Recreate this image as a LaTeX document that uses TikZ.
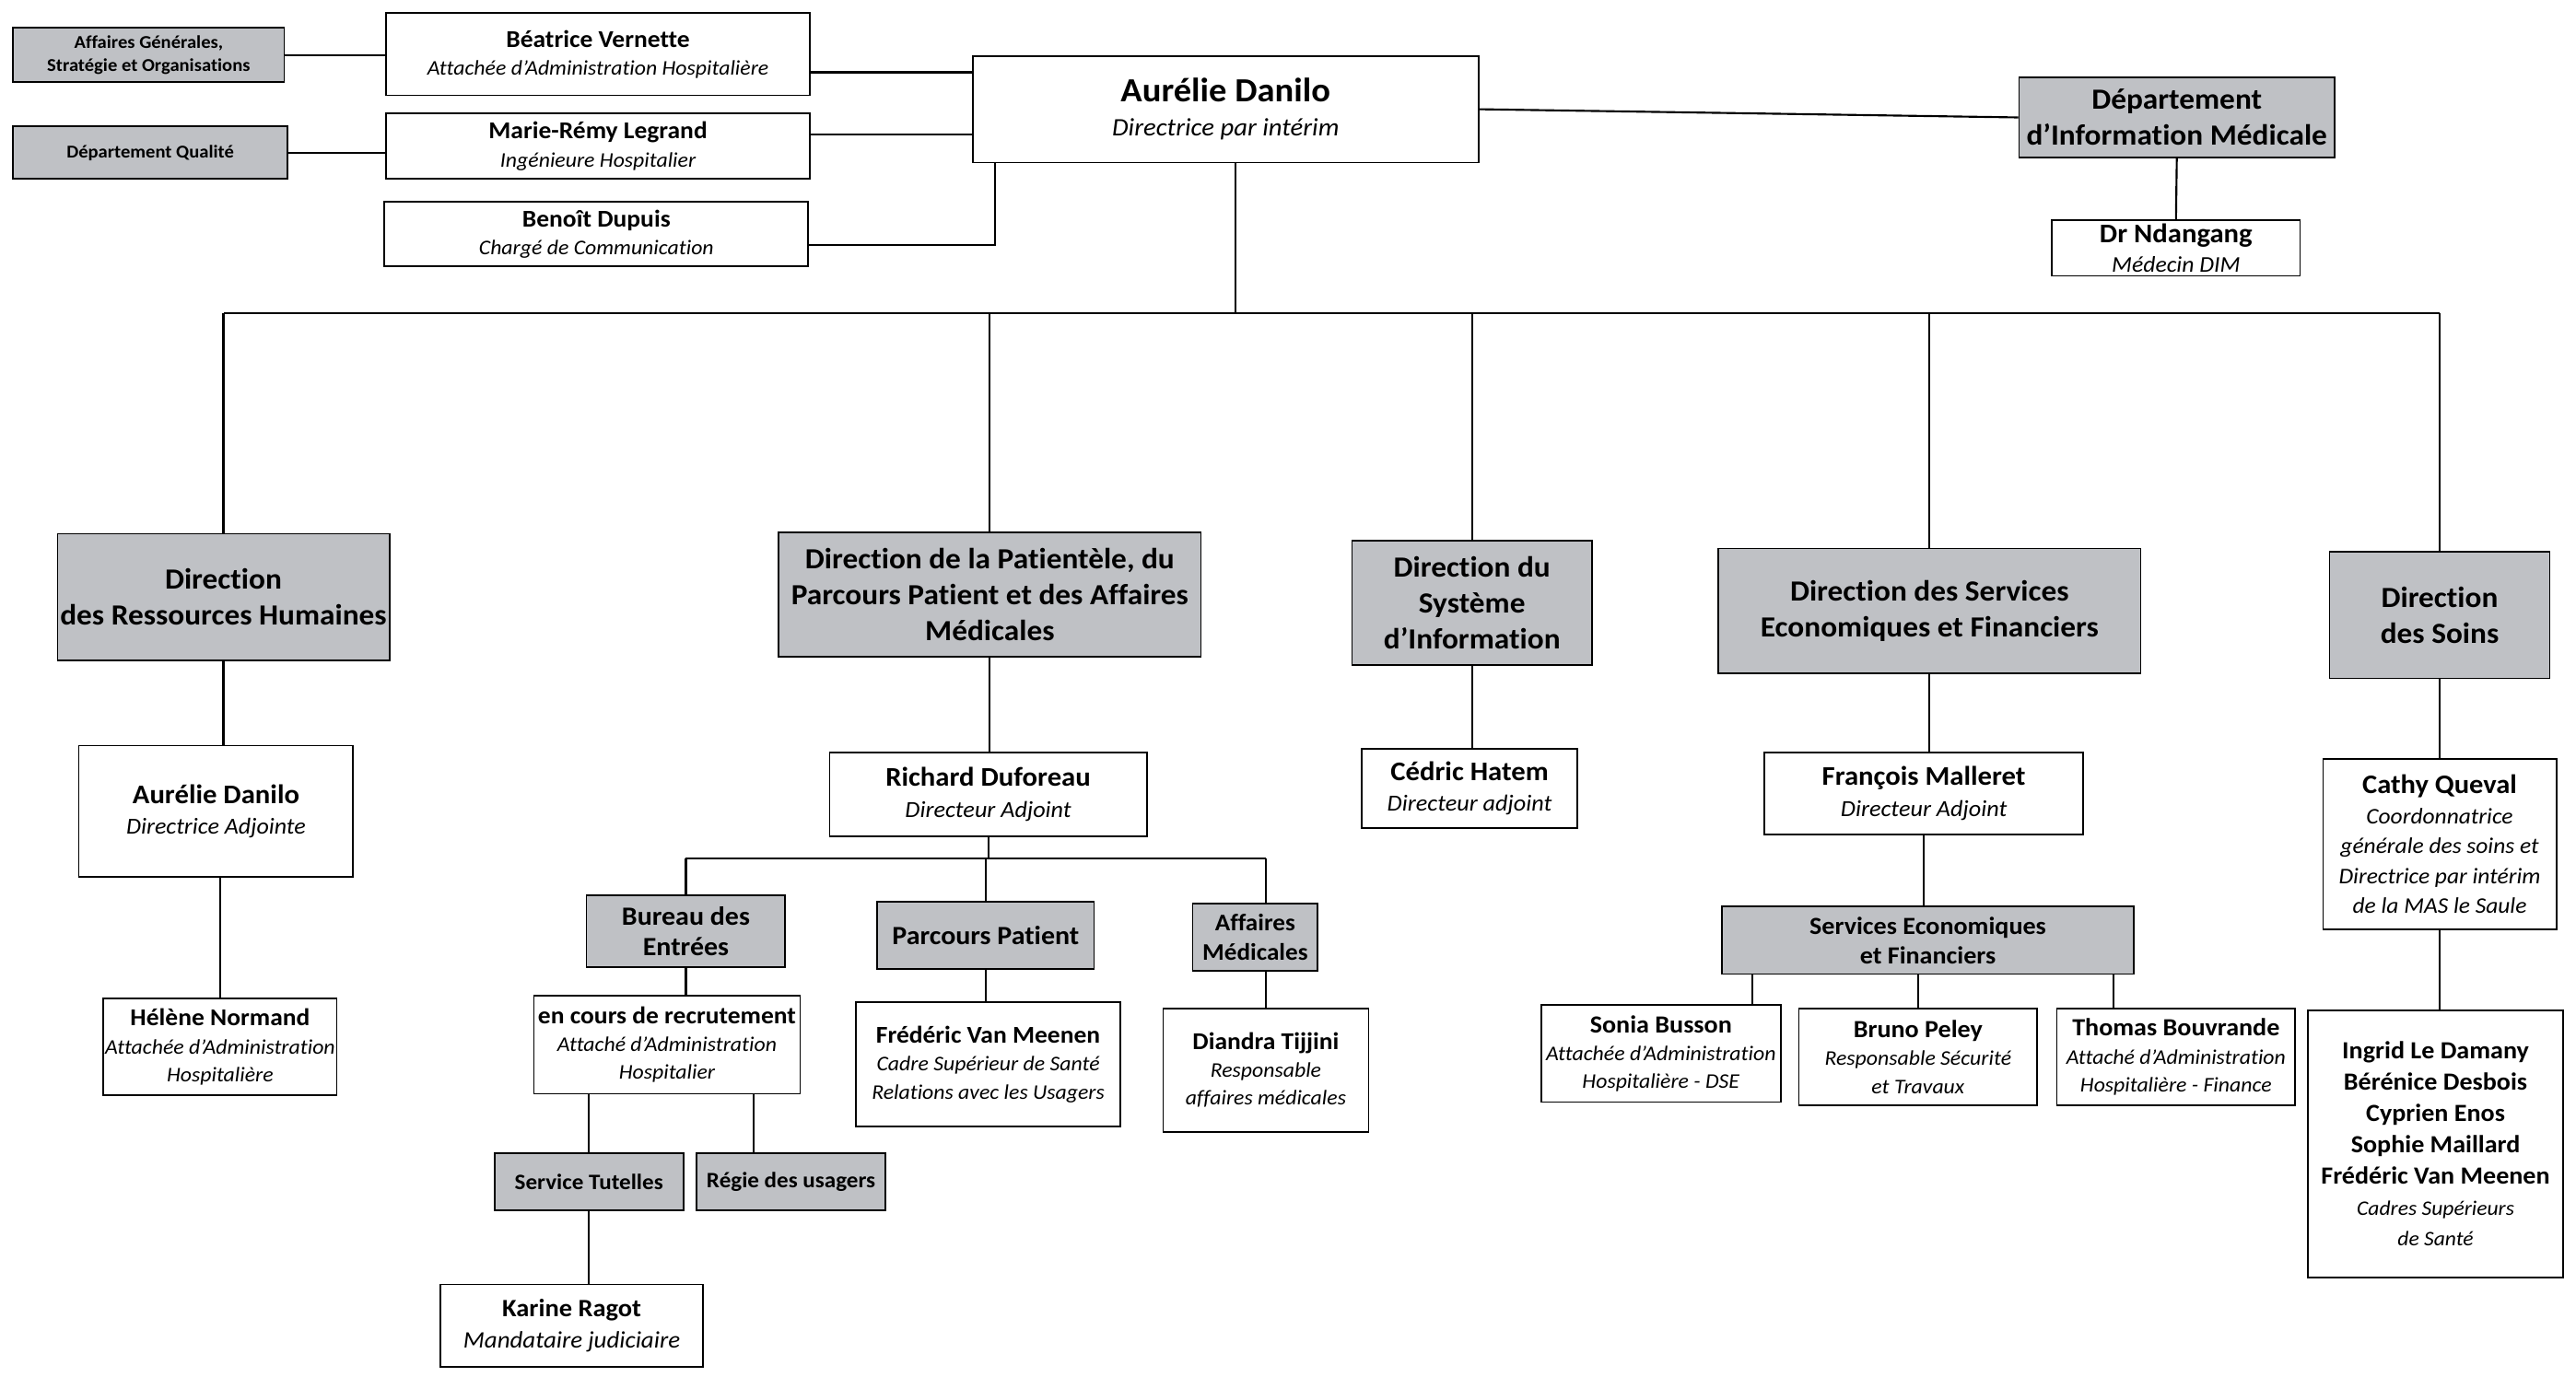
\documentclass[tikz,border=0pt]{standalone}
\usepackage{fontspec}
\setmainfont{Carlito}[FakeStretch=1.05, Ligatures=NoCommon]
\usepackage{tikz}
\usetikzlibrary{calc}
\definecolor{boxgray}{RGB}{191,193,197}
\newcommand{\nom}[2][14.7]{{\fontsize{#1}{17}\selectfont\bfseries\upshape #2}}

\tikzset{
  taille/.style 2 args={minimum width=#1pt, minimum height=#2pt},
  cadre/.style={draw, line width=1pt, fill=white, align=center, inner sep=0pt,
    font=\fontsize{12.7}{17}\selectfont\itshape},
  service/.style={draw, line width=1pt, fill=boxgray, align=center, inner sep=0pt,
    font=\fontsize{15}{18}\selectfont\bfseries},
  direction/.style={service, font=\fontsize{17.8}{22}\selectfont\bfseries},
  petit/.style={service, font=\fontsize{11}{14}\selectfont\bfseries},
  lien/.style={line width=1.2pt}
}

\begin{document}
\begin{tikzpicture}[x=1pt,y=-1pt]
\useasboundingbox (0,0) rectangle (1568,838);

% direction generale et rattachements
\node[cadre, taille={308}{65}, font=\fontsize{15.3}{21}\selectfont\itshape] (dg) at (746,66.5)
  {\nom[20.6]{Aurélie Danilo}\\Directrice par intérim};
\node[cadre, taille={258}{50}] (beatrice) at (364,33) {\nom{Béatrice Vernette}\\Attachée d’Administration Hospitalière};
\node[cadre, taille={258}{40}] (marie) at (364,89) {\nom{Marie-Rémy Legrand}\\Ingénieure Hospitalier};
\node[cadre, taille={258}{39}] (benoit) at (363,142.5) {\nom{Benoît Dupuis}\\Chargé de Communication};
\node[petit, taille={165}{33}] (affgen) at (90.5,33.5) {Affaires Générales,\\Stratégie et Organisations};
\node[petit, taille={167}{32}] (qualite) at (91.5,93) {Département Qualité};
\node[direction, taille={192}{49}] (dim) at (1325,71.5) {Département\\d’Information Médicale};
\node[cadre, taille={151}{34}, font=\fontsize{13.7}{18}\selectfont\itshape] (ndangang) at (1324.5,151) {\nom[16.4]{Dr Ndangang}\\Médecin DIM};

% directions
\node[direction, taille={202}{77}] (drh) at (136,363.5) {Direction\\des Ressources Humaines};
\node[direction, taille={257}{76}] (dppam) at (602.5,362) {Direction de la Patientèle, du\\Parcours Patient et des Affaires\\Médicales};
\node[direction, taille={146}{76}] (dsi) at (896,367) {Direction du\\Système\\d’Information};
\node[direction, taille={257}{76}] (dsef) at (1174.5,372) {Direction des Services\\Economiques et Financiers};
\node[direction, taille={134}{77}] (soins) at (1485,374.5) {Direction\\des Soins};

% adjoints
\node[cadre, taille={167}{80}, font=\fontsize{13.9}{19}\selectfont\itshape] (adjrh) at (131.5,494) {\nom[16.4]{Aurélie Danilo}\\Directrice Adjointe};
\node[cadre, taille={142}{59}] (helene) at (134,637.5) {\nom{Hélène Normand}\\Attachée d’Administration\\Hospitalière};
\node[cadre, taille={193}{51}, font=\fontsize{14}{19}\selectfont\itshape] (richard) at (601.5,483.5) {\nom[16.4]{Richard Duforeau}\\Directeur Adjoint};
\node[cadre, taille={131}{48}, font=\fontsize{14}{19}\selectfont\itshape] (cedric) at (894.5,480) {\nom[16.4]{Cédric Hatem}\\Directeur adjoint};
\node[cadre, taille={194}{50}, font=\fontsize{14}{19}\selectfont\itshape] (francois) at (1171,483) {\nom[16.4]{François Malleret}\\Directeur Adjoint};
\node[cadre, taille={142}{104}, font=\fontsize{13.6}{18.3}\selectfont\itshape] (cathy) at (1485,514)
  {\nom[16.3]{Cathy Queval}\\Coordonnatrice\\générale des soins et\\Directrice par intérim\\de la MAS le Saule};

% patientele
\node[service, taille={121}{44}, font=\fontsize{16}{19}\selectfont\bfseries] (bureau) at (417.5,567) {Bureau des\\Entrées};
\node[service, taille={132}{41}, font=\fontsize{16}{19}\selectfont\bfseries] (parcours) at (600,569.5) {Parcours Patient};
\node[service, taille={76}{41}, font=\fontsize{14.5}{18}\selectfont\bfseries] (affmed) at (764,570.5) {Affaires\\Médicales};
\node[cadre, taille={162}{60}] (recrut) at (406,636) {\nom{en cours de recrutement}\\Attaché d’Administration\\Hospitalier};
\node[cadre, taille={161}{76}] (frederic) at (601.5,648) {\nom{Frédéric Van Meenen}\\Cadre Supérieur de Santé\\Relations avec les Usagers};
\node[cadre, taille={125}{75}] (diandra) at (770.5,651.5) {\nom{Diandra Tijjini}\\Responsable\\affaires médicales};
\node[service, taille={115}{35}, font=\fontsize{13.4}{15}\selectfont\bfseries] (tutelles) at (358.5,719.5) {Service Tutelles};
\node[service, taille={115}{35}, font=\fontsize{13.4}{15}\selectfont\bfseries] (regie) at (481.5,719.5) {Régie des usagers};
\node[cadre, taille={160}{50}, font=\fontsize{14.4}{19}\selectfont\itshape] (karine) at (348,807) {\nom[15.2]{Karine Ragot}\\Mandataire judiciaire};

% services economiques
\node[service, taille={251}{41}] (sef) at (1173.5,572.5) {Services Economiques\\et Financiers};
\node[cadre, taille={146}{59}] (sonia) at (1011,641.5) {\nom[15]{Sonia Busson}\\Attachée d’Administration\\Hospitalière - DSE};
\node[cadre, taille={145}{59}] (bruno) at (1167.5,643.5) {\nom[15]{Bruno Peley}\\Responsable Sécurité\\et Travaux};
\node[cadre, taille={145}{59}] (thomas) at (1324.5,643.5) {\nom[15]{Thomas Bouvrande}\\Attaché d’Administration\\Hospitalière - Finance};
\node[cadre, taille={155}{163}, font=\fontsize{12.6}{19}\selectfont\itshape] (ingrid) at (1482.5,696.5)
  {\nom[15]{Ingrid Le Damany}\\\nom[15]{Bérénice Desbois}\\\nom[15]{Cyprien Enos}\\\nom[15]{Sophie Maillard}\\\nom[15]{Frédéric Van Meenen}\\Cadres Supérieurs\\de Santé};

% liens du haut
\draw[lien] (affgen.east) -- (affgen.east -| beatrice.west);
\draw[lien] (qualite.east) -- (qualite.east -| marie.west);
\draw[lien] ($(beatrice.east)+(0,11)$) coordinate (bv) -- (bv -| dg.west);
\draw[lien] ($(marie.east)+(0,-7)$) coordinate (mr) -- (mr -| dg.west);
\draw[lien] ($(benoit.east)+(0,6.5)$) -| ($(dg.south west)+(14,0)$);
\draw[lien] (dg.east) -- (dim.west);
\draw[lien] (dim.south) -- (ndangang.north);

% tronc et bus
\coordinate (tronc) at ($(dg.south)+(6,0)$);
\coordinate (bus) at ($(tronc)+(0,91)$);
\draw[lien] (tronc) -- (bus);
\draw[lien] (bus -| drh.north) -- (bus -| soins.north);
\foreach \d in {drh,dppam,dsi,dsef,soins}
  \draw[lien] (bus -| \d.north) -- (\d.north);

\draw[lien] (drh.south) -- (drh.south |- adjrh.north);
\draw[lien] (helene.north |- adjrh.south) -- (helene.north);
\draw[lien] (dppam.south) -- (dppam.south |- richard.north);
\draw[lien] (dsi.south) -- (dsi.south |- cedric.north);
\draw[lien] (dsef.south) -- (dsef.south |- francois.north);
\draw[lien] (soins.south) -- (soins.south |- cathy.north);
\draw[lien] (cathy.south) -- (cathy.south |- ingrid.north);

% sous richard
\coordinate (rbus) at ($(richard.south)+(0,13)$);
\draw[lien] (richard.south) -- (rbus);
\draw[lien] (rbus -| bureau.north) -- (rbus -| diandra.north);
\draw[lien] (rbus -| bureau.north) -- (bureau.north);
\draw[lien] (rbus -| parcours.north) -- (parcours.north);
\draw[lien] (rbus -| diandra.north) -- (diandra.north |- affmed.north);
\draw[lien] (bureau.south) -- (bureau.south |- recrut.north);
\draw[lien] (parcours.south) -- (parcours.south |- frederic.north);
\draw[lien] (diandra.north |- affmed.south) -- (diandra.north);
\draw[lien] (recrut.south -| tutelles.north) -- (tutelles.north);
\draw[lien] ($(regie.north west)+(35,0)$) coordinate (rg) -- (rg |- recrut.south);
\draw[lien] (tutelles.south) -- (tutelles.south |- karine.north);

% sous francois
\draw[lien] (francois.south) -- (francois.south |- sef.north);
\draw[lien] ($(sonia.north east)+(-18,0)$) coordinate (sb) -- (sb |- sef.south);
\draw[lien] (bruno.north) -- (bruno.north |- sef.south);
\draw[lien] ($(thomas.north west)+(35,0)$) coordinate (tb) -- (tb |- sef.south);
\end{tikzpicture}
\end{document}
